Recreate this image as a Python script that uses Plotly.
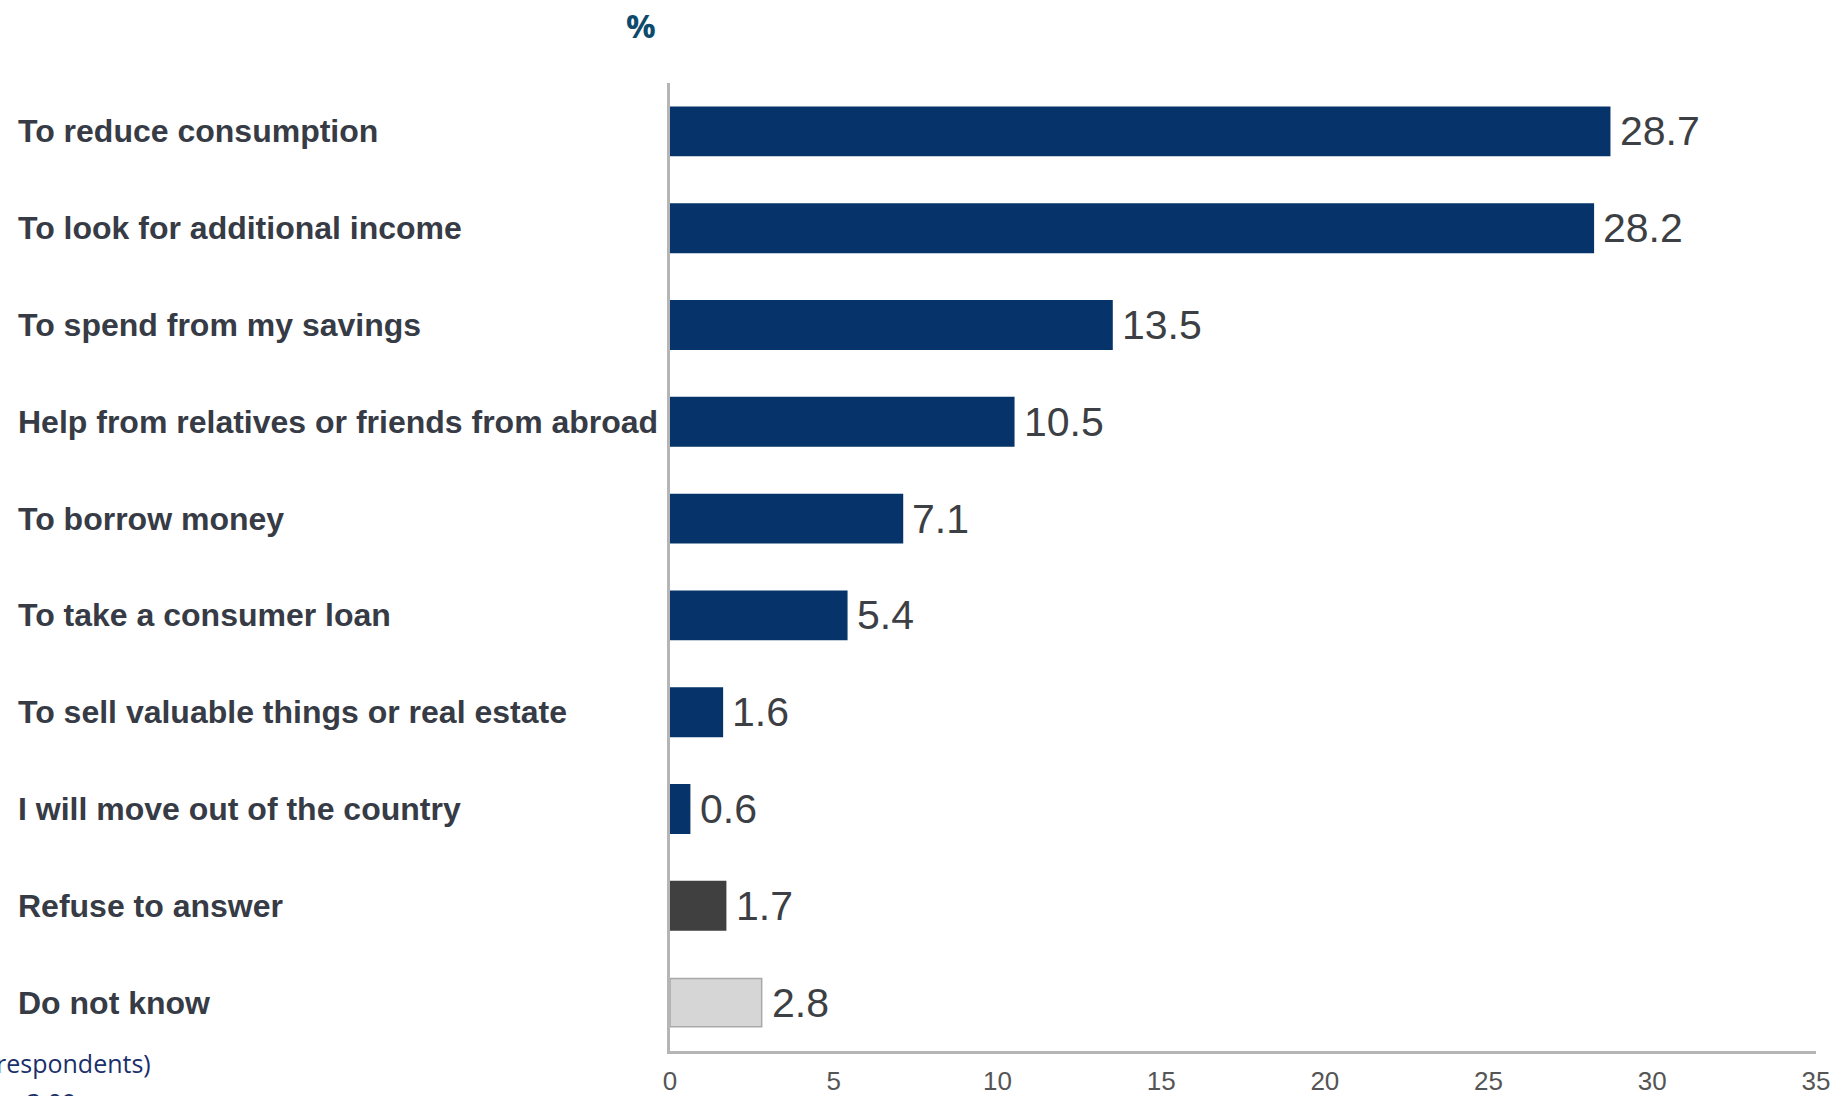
import plotly.graph_objects as go

# Survey answers and shares (%)
categories = [
    "To reduce consumption",
    "To look for additional income",
    "To spend from my savings",
    "Help from relatives or friends from abroad",
    "To borrow money",
    "To take a consumer loan",
    "To sell valuable things or real estate",
    "I will move out of the country",
    "Refuse to answer",
    "Do not know",
]
values = [28.7, 28.2, 13.5, 10.5, 7.1, 5.4, 1.6, 0.6, 1.7, 2.8]
bar_colors = ["#06346a"] * 8 + ["#404040", "#d6d6d6"]
edge_colors = ["#06346a"] * 8 + ["#404040", "#a9a9a9"]
x_ticks = [0, 5, 10, 15, 20, 25, 30, 35]

W, H = 1838, 1096
ML, MR, MT, MB = 670, 22, 83, 45
plot_w = W - ML - MR
plot_h = H - MT - MB

fig = go.Figure(
    go.Bar(
        x=values,
        y=categories,
        orientation="h",
        width=0.5,
        marker=dict(color=bar_colors, line=dict(color=edge_colors, width=1.5)),
        hoverinfo="x+y",
    )
)

annotations = []
# value labels to the right of each bar
for cat, v in zip(categories, values):
    annotations.append(dict(
        x=v, y=cat, xref="x", yref="y", text=f"{v:.1f}",
        showarrow=False, xanchor="left", yanchor="middle", xshift=8,
        font=dict(family="Liberation Sans, Arial, sans-serif", size=41, color="#3c3f44"),
    ))
# left-aligned category labels
for cat in categories:
    annotations.append(dict(
        x=(16 - ML) / plot_w, y=cat, xref="paper", yref="y", text=f"<b>{cat}</b>",
        showarrow=False, xanchor="left", yanchor="middle",
        font=dict(family="Liberation Sans, Arial, sans-serif", size=32, color="#363b45"),
    ))
# unit title
annotations.append(dict(
    x=(641 - ML) / plot_w, y=(H - MB - 25) / plot_h, xref="paper", yref="paper",
    text="<b>%</b>", showarrow=False, xanchor="center", yanchor="middle",
    font=dict(family="Open Sans, sans-serif", size=33, color="#0d4a6b"),
))
# footnote lines at the lower left
annotations.append(dict(
    x=(153 - ML) / plot_w, y=(H - MB - 1063) / plot_h, xref="paper", yref="paper",
    text="respondents)", showarrow=False, xanchor="right", yanchor="middle",
    font=dict(family="Open Sans, sans-serif", size=25, color="#1b2f6b"),
))
annotations.append(dict(
    x=(78 - ML) / plot_w, y=(H - MB - 1102) / plot_h, xref="paper", yref="paper",
    text="± 3.09", showarrow=False, xanchor="right", yanchor="middle",
    font=dict(family="Open Sans, sans-serif", size=25, color="#1b2f6b"),
))

fig.update_layout(
    width=W, height=H,
    margin=dict(l=ML, r=MR, t=MT, b=MB, pad=0, autoexpand=False),
    paper_bgcolor="white", plot_bgcolor="white",
    showlegend=False,
    annotations=annotations,
    xaxis=dict(
        range=[0, 35], tickvals=x_ticks, showgrid=False, zeroline=False,
        showline=True, linecolor="#b5b5b5", linewidth=3, ticks="",
        automargin=False, ticklabelstandoff=5,
        tickfont=dict(family="Liberation Sans, Arial, sans-serif", size=26, color="#555555"),
    ),
    yaxis=dict(
        categoryorder="array", categoryarray=categories,
        autorange=False, range=[9.5, -0.5], automargin=False,
        showticklabels=False, showgrid=False, zeroline=False,
        showline=True, linecolor="#b5b5b5", linewidth=3, ticks="",
    ),
)

fig.write_html("out.html")
